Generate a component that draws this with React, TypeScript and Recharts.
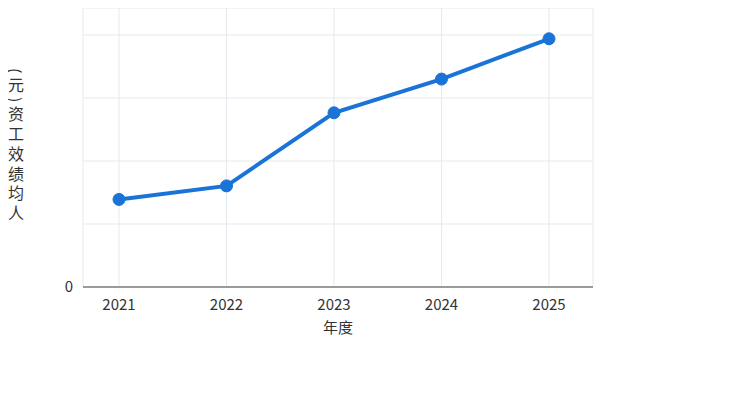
import { LineChart, Line, XAxis, YAxis, CartesianGrid } from "recharts";

const years = ["2021", "2022", "2023", "2024", "2025"];
const avgPay = [2780, 3210, 5530, 6600, 7880];
const yTicks = [0, 2000, 4000, 6000, 8000];
const yTitle = "(元)资工效绩均人";
const xTitle = "年度";

const data = years.map((year, i) => ({ year, value: avgPay[i] }));

const FONT = "'Noto Sans CJK SC', 'Noto Sans', sans-serif";
const BLUE = "#1a73d6";

// vertical title, characters upright, stacked top to bottom
function YLabel() {
  return (
    <text
      x={8}
      y={60}
      fill="#333"
      fontSize={16}
      fontFamily={FONT}
      style={{ writingMode: "vertical-rl", letterSpacing: 3.8 }}
    >
      {yTitle}
    </text>
  );
}

export default function App() {
  return (
    <div style={{ width: 722, height: 390, background: "#fff" }}>
      <LineChart
        width={722}
        height={390}
        data={data}
        margin={{ top: 0, right: 137, left: 0, bottom: 51 }}
      >
        <CartesianGrid stroke="#e6e9ee" strokeWidth={1} />
        <XAxis
          dataKey="year"
          height={60}
          padding={{ left: 36, right: 44 }}
          tick={{ fontSize: 15, fill: "#333", fontFamily: FONT }}
          tickLine={false}
          axisLine={{ stroke: "#9a9a9a", strokeWidth: 2 }}
          tickMargin={6}
          label={{
            value: xTitle,
            position: "insideBottom",
            offset: 14,
            fill: "#333",
            fontSize: 15,
            fontFamily: FONT,
          }}
        />
        <YAxis
          width={75}
          domain={[0, 8857]}
          ticks={yTicks}
          tickFormatter={(v: number) => (v === 0 ? "0" : "")}
          tick={{ fontSize: 15, fill: "#333", fontFamily: FONT }}
          tickLine={false}
          axisLine={false}
          tickMargin={4}
          label={<YLabel />}
        />
        <Line
          type="linear"
          dataKey="value"
          stroke={BLUE}
          strokeWidth={4}
          dot={{ r: 6, fill: BLUE, stroke: BLUE, strokeWidth: 1 }}
          isAnimationActive={false}
        />
      </LineChart>
    </div>
  );
}
